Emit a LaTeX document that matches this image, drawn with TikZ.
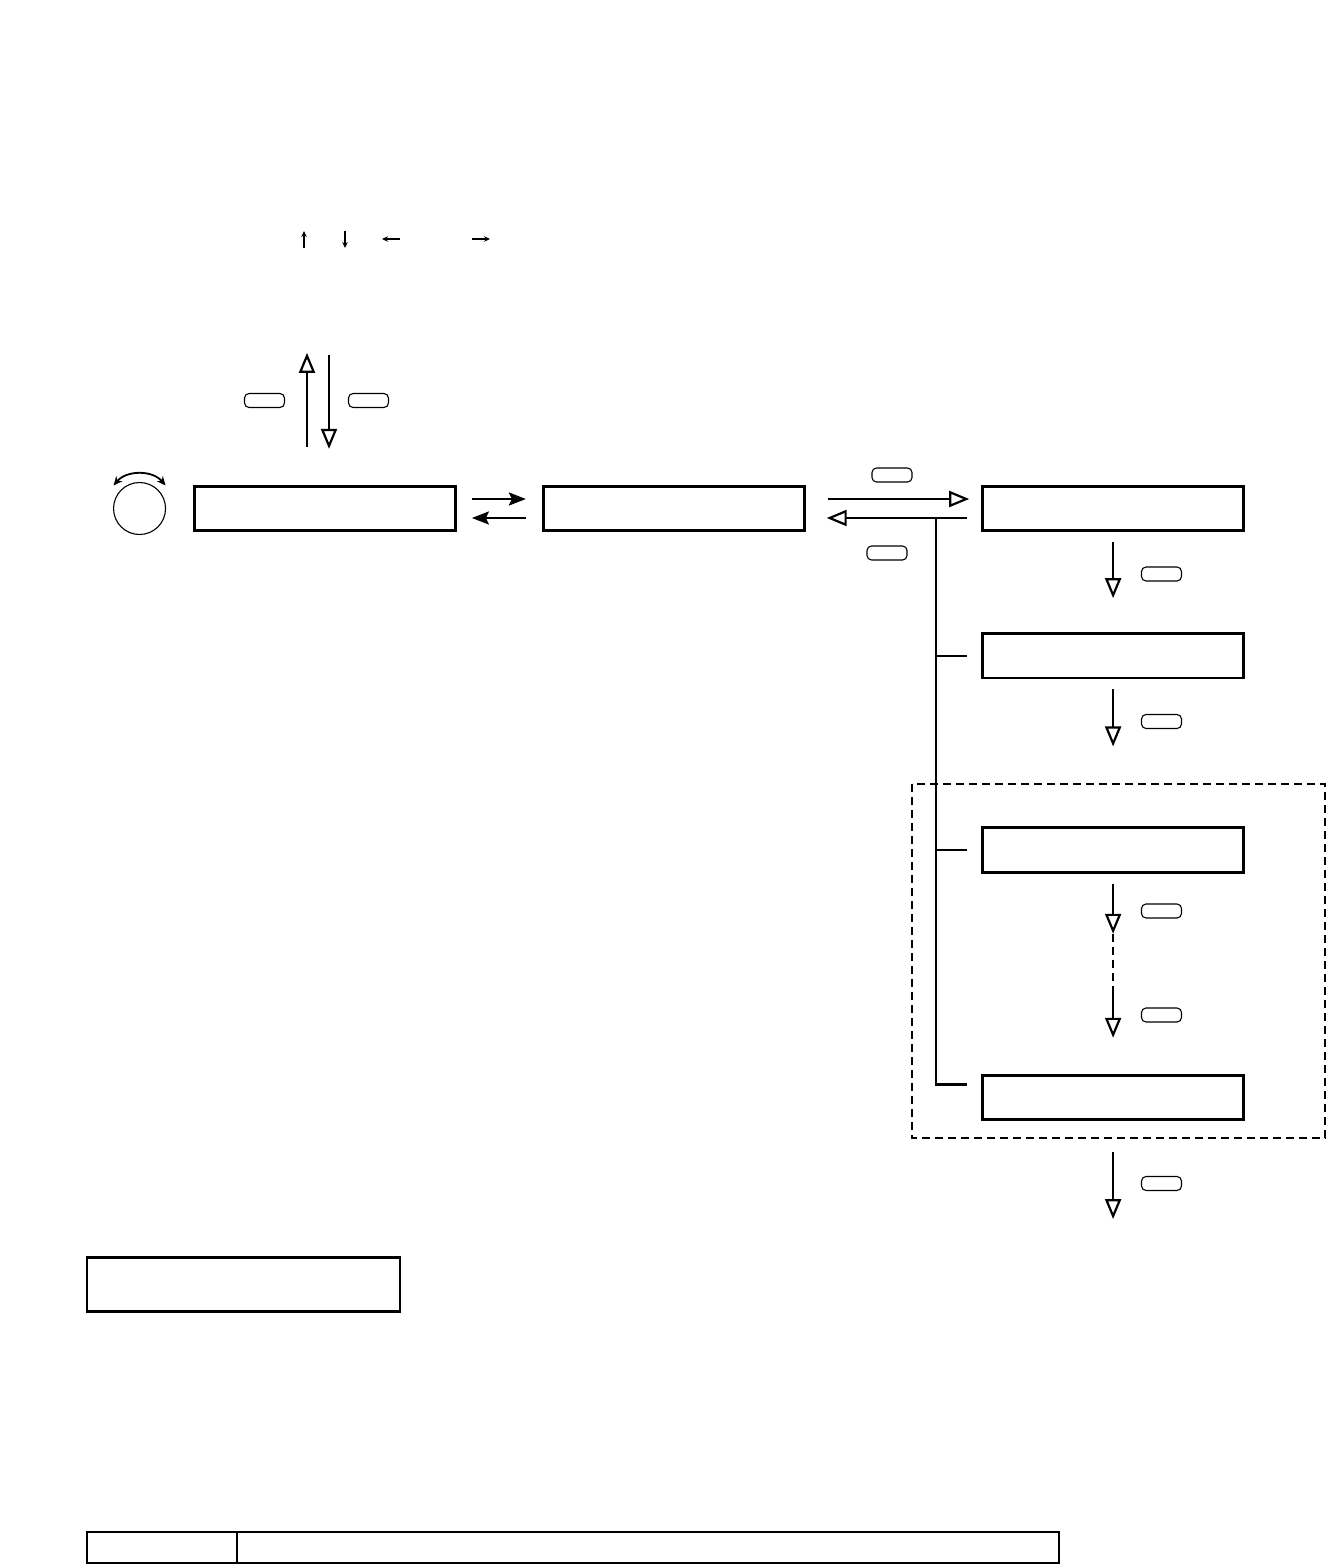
\documentclass[tikz,border=0pt]{standalone}
\usetikzlibrary{arrows.meta, positioning}

\begin{document}
\begin{tikzpicture}[x=1pt, y=-1pt,
    screen/.style={draw, rectangle, line width=2.8pt, minimum width=261pt, minimum height=44.5pt, inner sep=0pt},
    key/.style={draw, rectangle, rounded corners=4.5pt, line width=1.1pt, minimum width=40pt, minimum height=14pt, inner sep=0pt},
    openarr/.style={-{Triangle[open, length=20pt, width=16pt, line width=2.2pt]}, line width=2.4pt},
    fillarr/.style={-{Stealth[length=17pt, width=13pt, inset=3pt]}, line width=2.4pt},
    tinyarr/.style={-{Stealth[length=6pt, width=5.5pt]}, line width=1.5pt},
    link/.style={line width=2.4pt}]
    \useasboundingbox (0,0) rectangle (1326,1565);

    % legend arrows
    \draw[tinyarr] (304,248) -- (304,231);
    \draw[tinyarr] (345,231) -- (345,248);
    \draw[tinyarr] (400,239) -- (382,239);
    \draw[tinyarr] (472,239) -- (490,239);

    % display screens
    \node[screen] (b1) at (325,508.5) {};
    \node[screen, right=85pt of b1] (b2) {};
    \node[screen, right=175.5pt of b2] (b3) {};
    \node[screen, below=100pt of b3] (b4) {};
    \node[screen, below=147pt of b4] (b5) {};
    \node[screen, below=200pt of b5] (b6) {};

    % jog dial
    \node[draw, circle, line width=1.1pt, minimum size=52pt, inner sep=0pt, left=27pt of b1] (knob) {};
    \draw[{Stealth[length=9pt, width=8pt]}-{Stealth[length=9pt, width=8pt]}, line width=1.8pt]
        ([shift={(-26,-23)}]knob.center) to[bend left=50] ([shift={(26,-23)}]knob.center);

    % up / down keys
    \draw[openarr] ([xshift=-18pt, yshift=38pt]b1.north) -- ++(0,-94);
    \draw[openarr] ([xshift=4pt, yshift=130pt]b1.north) -- ++(0,94);
    \node[key] (kup) at (264.5,400.5) {};
    \node[key] (kdown) at (368.5,400.5) {};

    % b1 <-> b2
    \draw[fillarr, shorten <=15pt, shorten >=16pt] ([yshift=9.5pt]b1.east) -- ([yshift=9.5pt]b2.west);
    \draw[fillarr, shorten <=16pt, shorten >=15pt] ([yshift=-9.5pt]b2.west) -- ([yshift=-9.5pt]b1.east);

    % b2 <-> b3
    \draw[openarr, shorten <=22pt, shorten >=12pt] ([yshift=9.5pt]b2.east) -- ([yshift=9.5pt]b3.west);
    \draw[openarr, shorten <=14pt, shorten >=21pt] ([yshift=-9.5pt]b3.west) -- ([yshift=-9.5pt]b2.east);
    \node[key] (kset) at (892,475) {};
    \node[key] (kback) at (887,553) {};

    % return branch
    \coordinate (split) at ([xshift=-45pt, yshift=-9.5pt]b3.west);
    \draw[link] (split) |- ([xshift=-14pt, yshift=13pt]b6.west);
    \draw[link] (split |- b4.west) -- ([xshift=-14pt]b4.west);
    \draw[link] (split |- b5.west) -- ([xshift=-14pt]b5.west);

    % steps down the column
    \draw[openarr] ([yshift=-10pt]b3.south) -- ++(0,56);
    \node[key] (k1) at (1161.5,574) {};
    \draw[openarr] ([yshift=-10pt]b4.south) -- ++(0,57);
    \node[key] (k2) at (1161.5,721.5) {};
    \draw[openarr] ([yshift=-10pt]b5.south) -- ++(0,50) coordinate (dtop);
    \draw[link, dash pattern=on 8pt off 5pt] (dtop) -- ++(0,55) coordinate (dbot);
    \draw[openarr] (dbot) -- ++(0,49);
    \node[key] (k3) at (1161.5,911) {};
    \node[key] (k4) at (1161.5,1015) {};
    \draw[openarr] ([yshift=-31pt]b6.south) -- ++(0,67);
    \node[key] (k5) at (1161.5,1183.5) {};

    % repeat frame
    \draw[line width=2pt, dash pattern=on 8pt off 5pt] (912,784) rectangle (1325,1138);

    % note box
    \node[draw, line width=2.8pt, minimum width=313pt, minimum height=54pt, inner sep=0pt] (note) at (243.5,1284.5) {};

    % table
    \node[draw, line width=1.8pt, minimum width=972pt, minimum height=31pt, inner sep=0pt] (tbl) at (573,1547.8) {};
    \draw[line width=1.8pt] ([xshift=151pt]tbl.north west) -- ([xshift=151pt]tbl.south west);
\end{tikzpicture}
\end{document}
